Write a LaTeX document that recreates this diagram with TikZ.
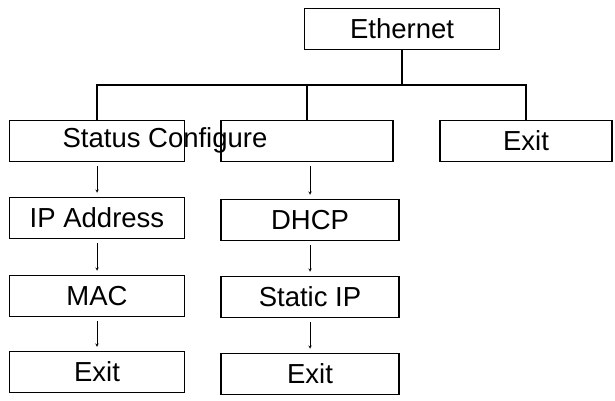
\documentclass[tikz,border=0pt]{standalone}
\usepackage{fontspec}
\setmainfont{Liberation Sans}
\usetikzlibrary{positioning}
\begin{document}
\begin{tikzpicture}[
    x=1pt, y=-1pt,
    box/.style={rectangle,draw,line width=1.5pt,minimum height=41pt,inner sep=0pt,font=\fontsize{27.5}{27.5}\selectfont},
    link/.style={line width=1.5pt},
    step arrow/.style={->,line width=0.5pt,>=stealth}
]
    \useasboundingbox (0,0) rectangle (615,401);
    % top level
    \node[box,minimum width=195pt] (eth) at (402,29) {Ethernet};
    \node[box,minimum width=175pt] (status) at (97,141) {};
    \node[box,minimum width=172pt] (config) at (307,141) {};
    \node[box,minimum width=172pt] (exit) at (526,141) {Exit};
    \node[font=\fontsize{27.5}{27.5}\selectfont] (sclabel) at (165,140) {Status Configure};
    \coordinate (hub) at (402,85);

    % tree lines
    \draw[link] (eth.south) -- (hub);
    \draw[link] (status.north) |- (hub) -| (exit.north);
    \draw[link] (config.north) -- (config.north |- hub);

    % left column
    \node[box,minimum width=175pt] (ip) at (97,218) {IP Address};
    \node[box,minimum width=175pt] (mac) at (97,296) {MAC};
    \node[box,minimum width=175pt] (exitA) at (97,372) {Exit};
    % right column
    \node[box,minimum width=178pt] (dhcp) at (310,220) {DHCP};
    \node[box,minimum width=178pt] (static) at (310,297) {Static IP};
    \node[box,minimum width=178pt] (exitB) at (310,374) {Exit};

    % small arrows
    \draw[step arrow] ([yshift=-4pt]status.south) -- ([yshift=4pt]ip.north);
    \draw[step arrow] ([yshift=-4pt]ip.south) -- ([yshift=4pt]mac.north);
    \draw[step arrow] ([yshift=-4pt]mac.south) -- ([yshift=4pt]exitA.north);
    \draw[step arrow] ([yshift=-4pt]config.south -| dhcp.north) -- ([yshift=4pt]dhcp.north);
    \draw[step arrow] ([yshift=-4pt]dhcp.south) -- ([yshift=4pt]static.north);
    \draw[step arrow] ([yshift=-4pt]static.south) -- ([yshift=4pt]exitB.north);
\end{tikzpicture}
\end{document}
